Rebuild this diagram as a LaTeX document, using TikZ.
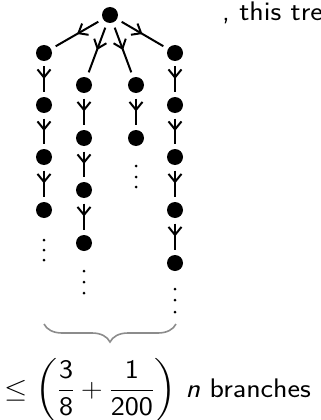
\documentclass[tikz,border=0pt]{standalone}
\usepackage{graphicx}
\usepackage{amsmath}
\usetikzlibrary{arrows.meta,decorations.markings,decorations.pathreplacing}
\newcommand{\bigtxt}{\sffamily\fontsize{24.88}{30}\selectfont}
\begin{document}
\begin{tikzpicture}[x=1pt,y=-1pt,
  vtx/.style={circle,fill=black,inner sep=0pt,minimum size=16pt,outer sep=0pt},
  edg/.style={line width=2pt,shorten <=5.5pt,shorten >=5.5pt,postaction={decorate},
    decoration={markings,mark=at position 0.5 with {\arrow{Straight Barb[length=8pt,width=13pt,line width=2pt]}}}},
  dotm/.style={circle,fill=black,inner sep=0pt,minimum size=3pt},
  txt/.style={inner sep=0pt},
  bracestyle/.style={draw=black!45,line width=1.6pt,decorate,decoration={brace,mirror,amplitude=18pt}}]
\useasboundingbox (0,0) rectangle (321,420);
\clip (0,0) rectangle (321,420);
% root
\node[vtx] (r) at (110,15) {};
% column 1
\node[vtx] (a0) at (44,53) {};
\node[vtx] (a1) at (44,105) {};
\node[vtx] (a2) at (44,157) {};
\node[vtx] (a3) at (44,210) {};
% column 2
\node[vtx] (b0) at (84,85) {};
\node[vtx] (b1) at (84,138) {};
\node[vtx] (b2) at (84,190) {};
\node[vtx] (b3) at (84,243) {};
% column 3
\node[vtx] (c0) at (136,85) {};
\node[vtx] (c1) at (136,138) {};
% column 4
\node[vtx] (d0) at (175,53) {};
\node[vtx] (d1) at (175,105) {};
\node[vtx] (d2) at (175,157) {};
\node[vtx] (d3) at (175,210) {};
\node[vtx] (d4) at (175,263) {};
% edges
\draw[edg] (r) -- (a0);
\draw[edg] (r) -- (b0);
\draw[edg] (r) -- (c0);
\draw[edg] (r) -- (d0);
\draw[edg] (a0) -- (a1);
\draw[edg] (a1) -- (a2);
\draw[edg] (a2) -- (a3);
\draw[edg] (b0) -- (b1);
\draw[edg] (b1) -- (b2);
\draw[edg] (b2) -- (b3);
\draw[edg] (c0) -- (c1);
\draw[edg] (d0) -- (d1);
\draw[edg] (d1) -- (d2);
\draw[edg] (d2) -- (d3);
\draw[edg] (d3) -- (d4);
% vertical dots
\node[dotm] (ad1) at (44,240) {};
\node[dotm] (ad2) at (44,250) {};
\node[dotm] (ad3) at (44,260) {};
\node[dotm] (bd1) at (84,271) {};
\node[dotm] (bd2) at (84,282) {};
\node[dotm] (bd3) at (84,293) {};
\node[dotm] (cd1) at (136,166) {};
\node[dotm] (cd2) at (136,177) {};
\node[dotm] (cd3) at (136,187) {};
\node[dotm] (dd1) at (175,289) {};
\node[dotm] (dd2) at (175,300) {};
\node[dotm] (dd3) at (175,312) {};
% brace
\coordinate (bl) at (44,324);
\coordinate (br) at (176,324);
\draw[bracestyle] (bl) -- (br);
% texts
\node[txt,anchor=base west] (top) at (222,21) {\scalebox{1.2}[1.08]{\bigtxt , this tre}};
\node[txt,anchor=base west] (lbl) at (4,397) {\scalebox{1.2}[1.08]{\bigtxt $\leq \left(\dfrac{\mathsf{3}}{\mathsf{8}}+\dfrac{\mathsf{1}}{\mathsf{200}}\right)$ \textit{n} branches}};
\end{tikzpicture}
\end{document}
